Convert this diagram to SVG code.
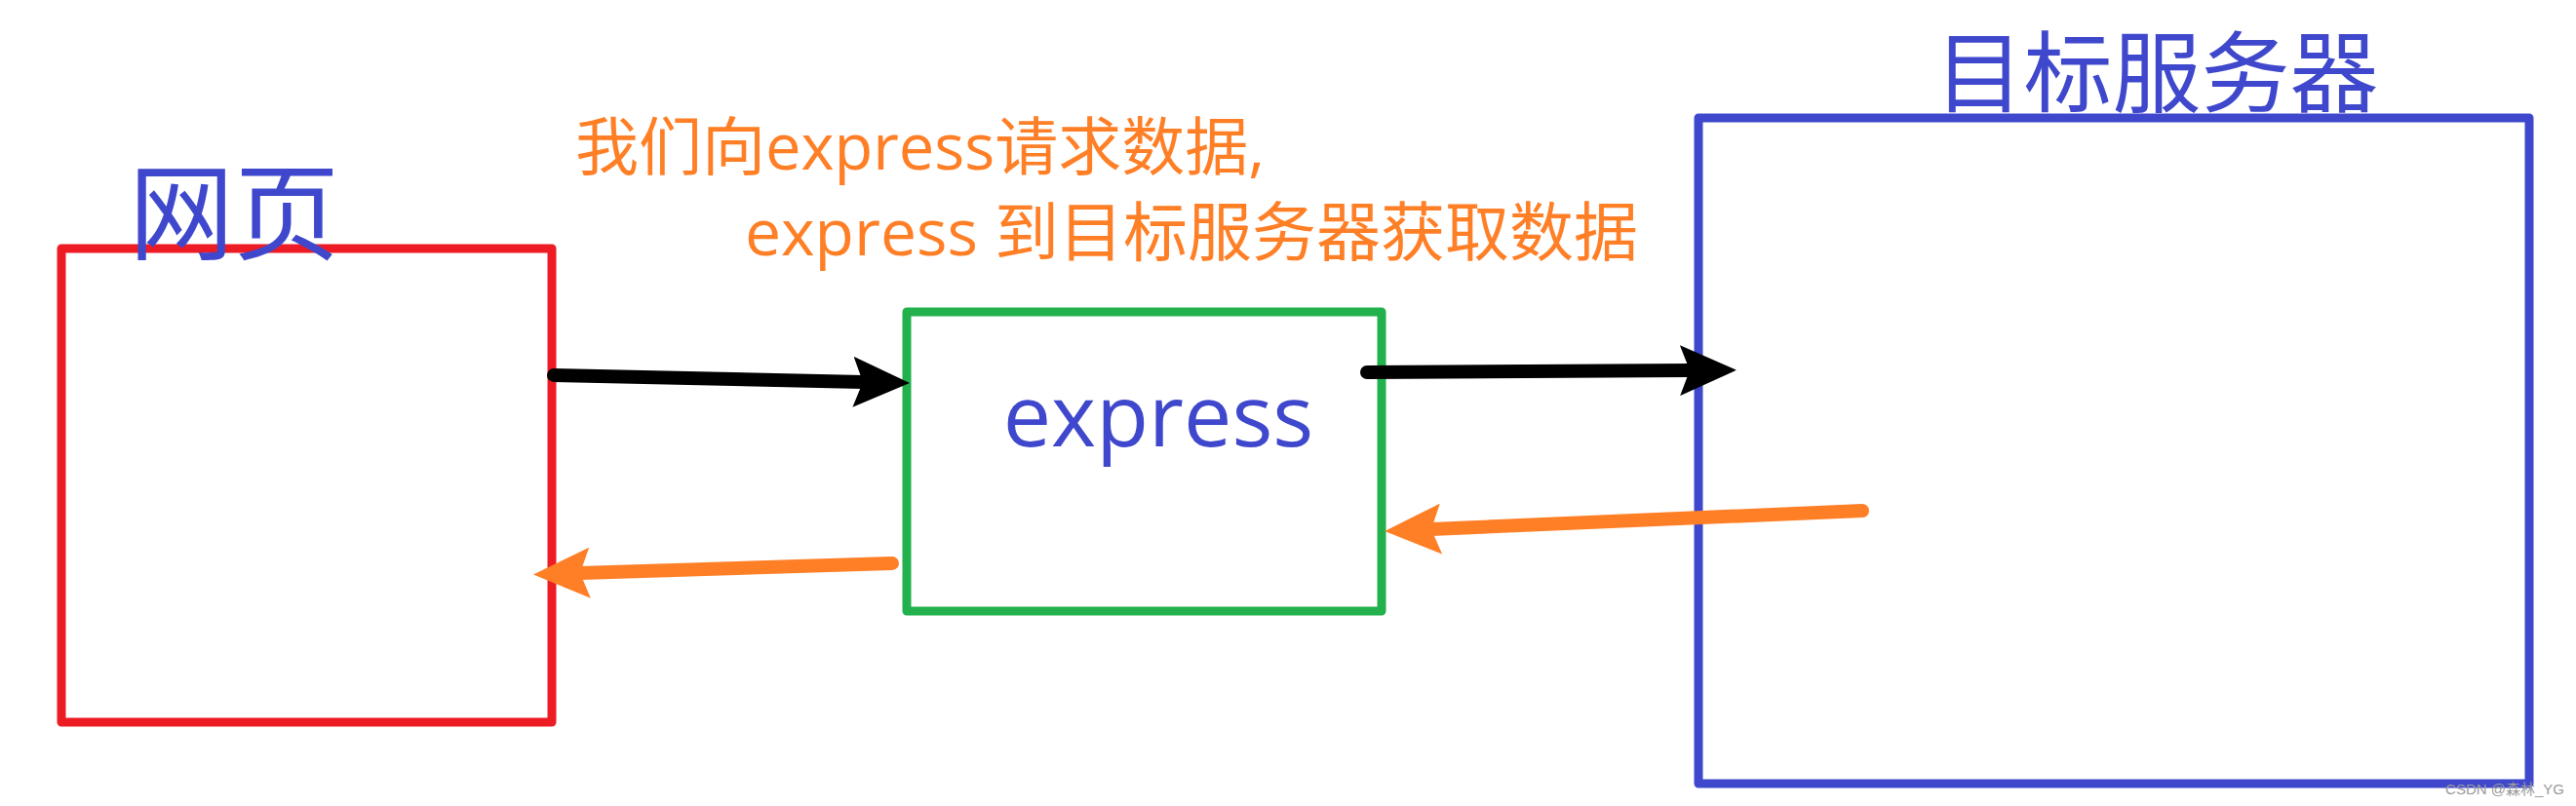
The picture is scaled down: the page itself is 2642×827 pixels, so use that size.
<svg xmlns="http://www.w3.org/2000/svg" width="2642" height="827" viewBox="0 0 2642 827">
<style>
.box{stroke-width:9;stroke-linejoin:round}
.cjk{font-family:"Open Sans","Noto Sans CJK SC",sans-serif}
.blue{fill:#3F48CC}
.orange{fill:#FF7F27}
.blk{stroke:#000;stroke-width:14;stroke-linecap:round;fill:none}
.org{stroke:#FF7F27;stroke-width:14;stroke-linecap:round;fill:none}
</style>
<defs>
<marker id="ahB" viewBox="0 0 58 52" refX="10" refY="26" markerWidth="58" markerHeight="52" markerUnits="userSpaceOnUse" orient="auto"><path d="M0,0 L58,26 L0,52 L10,26 Z" fill="#000"/></marker>
<marker id="ahO" viewBox="0 0 58 52" refX="10" refY="26" markerWidth="58" markerHeight="52" markerUnits="userSpaceOnUse" orient="auto"><path d="M0,0 L58,26 L0,52 L10,26 Z" fill="#FF7F27"/></marker>
</defs>
<rect width="2642" height="827" fill="#fff"/>
<g id="webpage">
<rect class="box" x="63" y="255" width="503" height="486" fill="#fff" stroke="#ED1C24"/>
<text class="cjk blue" x="132" y="258" font-size="108">网页</text>
</g>
<g id="express">
<rect class="box" x="930" y="320" width="487" height="307" fill="#fff" stroke="#22B14C"/>
<text class="cjk blue" x="1188" y="458" font-size="88" text-anchor="middle">express</text>
</g>
<g id="target-server">
<text class="cjk blue" x="2212" y="108" font-size="91" text-anchor="middle">目标服务器</text>
<rect class="box" x="1742" y="121" width="852" height="683" fill="#fff" stroke="#3F48CC"/>
</g>
<g id="note">
<text class="cjk orange" x="590" y="174" font-size="65">我们向express请求数据,</text>
<text class="cjk orange" x="764" y="262" font-size="66">express 到目标服务器获取数据</text>
</g>
<g id="connectors">
<path class="blk" d="M568,385 L885,392" marker-end="url(#ahB)"/>
<path class="blk" d="M1402,382 L1733,380" marker-end="url(#ahB)"/>
<path class="org" d="M1910,524 L1468,543" marker-end="url(#ahO)"/>
<path class="org" d="M915,578 L595,588" marker-end="url(#ahO)"/>
</g>
<text x="2630" y="815" font-family="'Liberation Sans','Noto Sans CJK SC',sans-serif" font-size="15" fill="#9a9a9a" text-anchor="end">CSDN @森林_YG</text>
</svg>
